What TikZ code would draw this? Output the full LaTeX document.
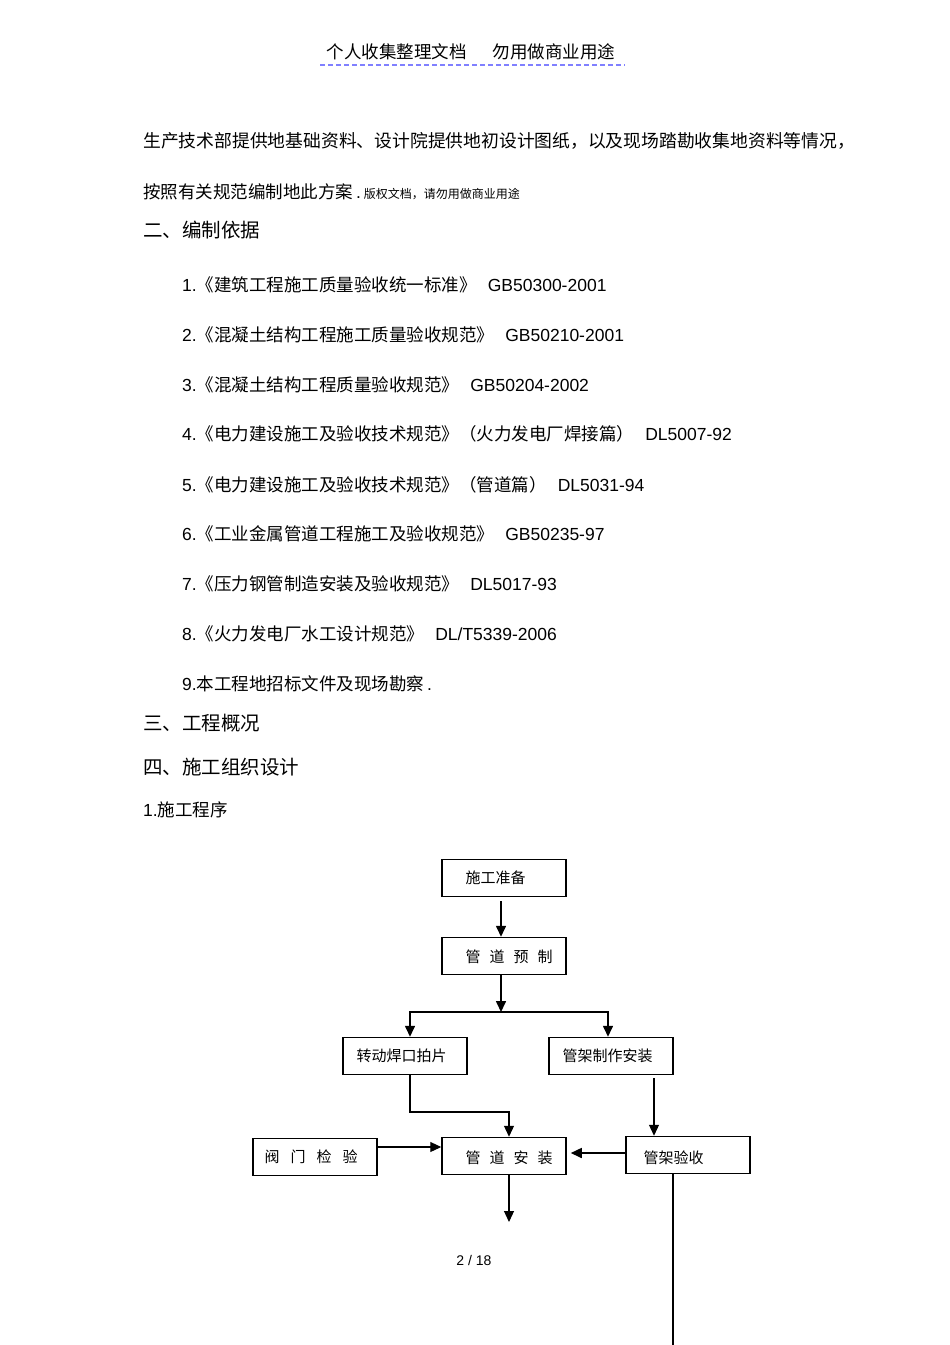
\documentclass[tikz,border=0pt]{standalone}
\usepackage{fontspec}
\setmainfont{Liberation Sans}
\newfontfamily\cjk{Noto Sans CJK SC}
\usetikzlibrary{arrows.meta}
\begin{document}
\begin{tikzpicture}[x=1pt,y=-1pt,
  box/.style={draw,line width=1.5pt,minimum width=124pt,minimum height=37pt,inner sep=0pt},
  lbl/.style={anchor=west,font=\cjk\fontsize{15}{17}\selectfont},
  txt/.style={anchor=west,inner sep=0pt,font=\fontsize{17.5}{20}\selectfont},
  lst/.style={anchor=west,inner sep=0pt,font=\fontsize{17.5}{20}\selectfont},
  arr/.style={line width=1.6pt,-{Triangle[length=11pt,width=10pt]}}]
\useasboundingbox (0,0) rectangle (950,1345);
\node[inner sep=0pt,font=\cjk\fontsize{17.5}{20}\selectfont] (hdr) at (471,52) {个人收集整理文档\hspace{26pt}勿用做商业用途};
\draw[dash pattern=on 5pt off 3pt,line width=1.6pt,color=blue!50] (320,65) -- (625,65);
\node[txt,font=\cjk\fontsize{17.8}{20}\selectfont] (p1) at (143,141) {生产技术部提供地基础资料、设计院提供地初设计图纸，以及现场踏勘收集地资料等情况，};
\node[txt] (p2) at (143,192) {{\cjk 按照有关规范编制地此方案}\,.\,{\cjk\fontsize{12}{14}\selectfont 版权文档，请勿用做商业用途}};
\node[txt,font=\cjk\fontsize{19.5}{22}\selectfont] (h2) at (143,230) {二、编制依据};
\node[lst] (l1) at (182,285) {1.{\cjk《建筑工程施工质量验收统一标准》}\hspace{11pt}GB50300-2001};
\node[lst] (l2) at (182,335) {2.{\cjk《混凝土结构工程施工质量验收规范》}\hspace{11pt}GB50210-2001};
\node[lst] (l3) at (182,385) {3.{\cjk《混凝土结构工程质量验收规范》}\hspace{11pt}GB50204-2002};
\node[lst] (l4) at (182,434) {4.{\cjk《电力建设施工及验收技术规范》（火力发电厂焊接篇）}\hspace{11pt}DL5007-92};
\node[lst] (l5) at (182,485) {5.{\cjk《电力建设施工及验收技术规范》（管道篇）}\hspace{11pt}DL5031-94};
\node[lst] (l6) at (182,534) {6.{\cjk《工业金属管道工程施工及验收规范》}\hspace{11pt}GB50235-97};
\node[lst] (l7) at (182,584) {7.{\cjk《压力钢管制造安装及验收规范》}\hspace{11pt}DL5017-93};
\node[lst] (l8) at (182,634) {8.{\cjk《火力发电厂水工设计规范》}\hspace{11pt}DL/T5339-2006};
\node[lst] (l9) at (182,684) {9.{\cjk 本工程地招标文件及现场勘察}\,.};
\node[txt,font=\cjk\fontsize{19.5}{22}\selectfont] (h3) at (143,723) {三、工程概况};
\node[txt,font=\cjk\fontsize{19.5}{22}\selectfont] (h4) at (143,767) {四、施工组织设计};
\node[lst] (s1) at (143,810) {1.{\cjk 施工程序}};
% boxes
\node[box] (b1) at (504,878) {};
\node[lbl] at (462,878) {施工准备};
\node[box] (b2) at (504,956) {};
\node[lbl] at (462,957) {管\hspace{9pt}道\hspace{9pt}预\hspace{9pt}制};
\node[box] (b3) at (405,1056) {};
\node[lbl] at (353,1056) {转动焊口拍片};
\node[box] (b4) at (611,1056) {};
\node[lbl] at (559,1056) {管架制作安装};
\node[box] (b5) at (315,1157) {};
\node[lbl] at (261,1157) {阀\hspace{11pt}门\hspace{11pt}检\hspace{11pt}验};
\node[box] (b6) at (504,1156) {};
\node[lbl] at (462,1158) {管\hspace{9pt}道\hspace{9pt}安\hspace{9pt}装};
\node[box] (b7) at (688,1155) {};
\node[lbl] at (640,1158) {管架验收};
\coordinate (j) at (501,1012);
\coordinate (e1) at (509,1222);
\coordinate (e2) at (673,1345);
\draw[arr] (b1.south -| j) ++(0,4) -- (b2.north -| j);
\draw[arr] (b2.south -| j) -- (j);
\draw[arr] (j) -| (b3.north -| 410,0);
\draw[arr] (j) -| (b4.north -| 608,0);
\draw[arr,line width=1.1pt] (b3.south -| 410,0) |- (509,1112) -- (b6.north -| e1);
\draw[arr,line width=1.1pt] (654,1078) -- (b7.north -| 654,0);
\draw[arr,line width=1.1pt] (b5.east |- 0,1147) -- (b6.west |- 0,1147);
\draw[arr] (b7.west |- 0,1153) -- ([xshift=4pt]b6.east |- 0,1153);
\draw[arr,line width=1.1pt] (b6.south -| e1) -- (e1);
\draw[line width=1.6pt] (b7.south -| e2) -- (e2);
\node[inner sep=0pt,font=\fontsize{14}{16}\selectfont] (pg) at (474,1260) {2 / 18};
\end{tikzpicture}
\end{document}
